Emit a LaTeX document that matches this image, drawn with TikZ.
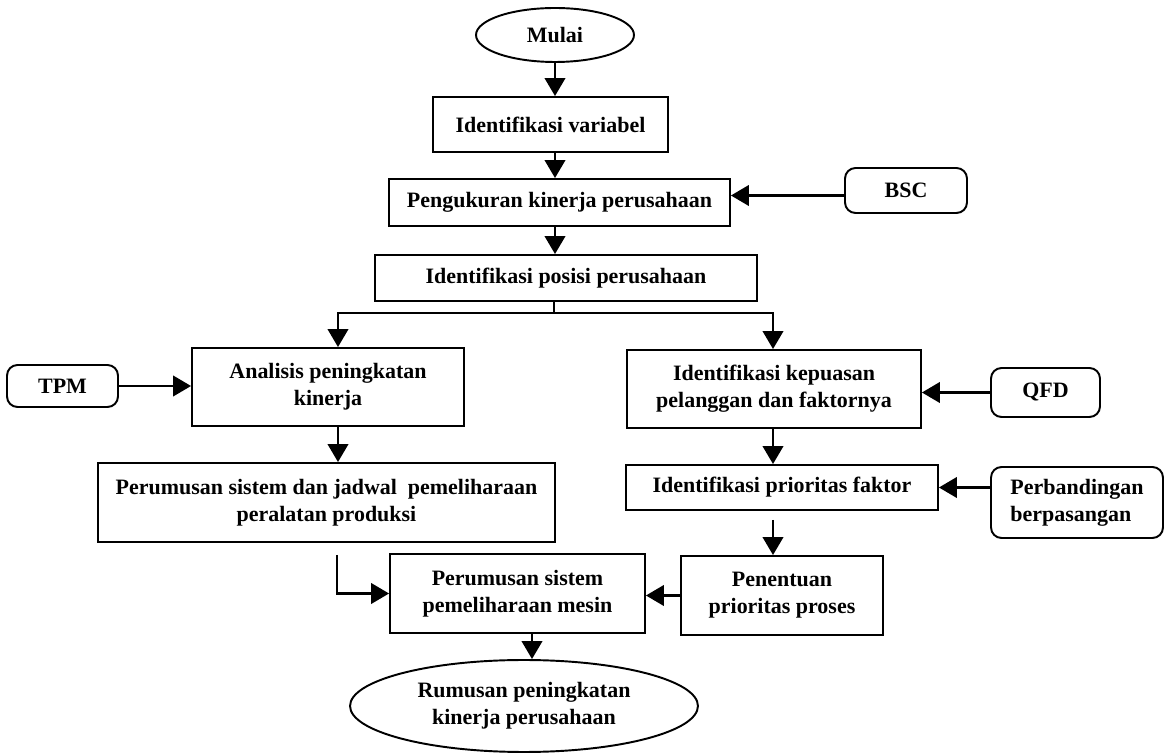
\documentclass[tikz,border=0pt]{standalone}
\usepackage{fontspec}
\setmainfont{Liberation Serif}
\usepackage{tikz}
\usetikzlibrary{shapes,arrows.meta,positioning,calc}

\begin{document}
\begin{tikzpicture}[x=0.02cm, y=-0.02cm, >={Triangle[length=3.6mm,width=4.1mm]},
    kotak/.style={rectangle, draw, line width=1.1pt, align=center, inner sep=0pt,
        font=\bfseries\fontsize{12.5}{15.5}\selectfont},
    bulat/.style={kotak, rounded corners=6pt},
    oval/.style={kotak, ellipse},
    garis/.style={line width=1.4pt},
    panah/.style={garis, ->}]
    \useasboundingbox (0,0) rectangle (1167,756);

    \node (mulai) [oval, minimum width=3.16cm, minimum height=1.08cm] at (555,35) {Mulai};
    \node (var) [kotak, minimum width=4.7cm, minimum height=1.1cm] at (550.5,124.5) {Identifikasi variabel};
    \node (ukur) [kotak, minimum width=6.82cm, minimum height=0.94cm] at (559.5,202.5) {Pengukuran kinerja perusahaan};
    \node (bsc) [bulat, minimum width=2.44cm, minimum height=0.9cm] at (906,190.5) {BSC};
    \node (posisi) [kotak, minimum width=7.64cm, minimum height=0.92cm] at (566,278) {Identifikasi posisi perusahaan};

    \node (analisis) [kotak, minimum width=5.44cm, minimum height=1.56cm] at (328,387) {Analisis peningkatan\\kinerja};
    \node (tpm) [bulat, minimum width=2.22cm, minimum height=0.84cm] at (62.5,386) {TPM};
    \node (jadwal) [kotak, minimum width=9.14cm, minimum height=1.58cm] at (326.5,502.5) {Perumusan sistem dan jadwal\ \ pemeliharaan\\peralatan produksi};

    \node (kepuasan) [kotak, minimum width=5.88cm, minimum height=1.56cm] at (774,389) {Identifikasi kepuasan\\pelanggan dan faktornya};
    \node (qfd) [bulat, minimum width=2.18cm, minimum height=0.98cm] at (1045.5,392.5) {QFD};
    \node (faktor) [kotak, minimum width=6.24cm, minimum height=0.9cm] at (782,487.5) {Identifikasi prioritas faktor};
    \node (banding) [bulat, align=left, minimum width=3.44cm, minimum height=1.42cm] at (1077,502.5) {Perbandingan\\berpasangan};
    \node (penentuan) [kotak, minimum width=4.04cm, minimum height=1.58cm] at (782,595.5) {Penentuan\\prioritas proses};

    \node (mesin) [kotak, minimum width=5.1cm, minimum height=1.58cm] at (517.5,593.5) {Perumusan sistem\\pemeliharaan mesin};
    \node (rumusan) [oval, minimum width=6.96cm, minimum height=1.84cm] at (524,706) {Rumusan peningkatan\\kinerja perusahaan};

    \coordinate (cabang) at (554,313);
    \coordinate (kiri) at (338,313);
    \coordinate (kanan) at (773,313);
    \coordinate (belok) at (337,555);
    \coordinate (jeda) at (773,520);
    \coordinate (turun) at (532,633);

    \draw [panah] (mulai) -- (mulai |- var.north);
    \draw [panah] (mulai |- var.south) -- (mulai |- ukur.north);
    \draw [panah] (mulai |- ukur.south) -- (mulai |- posisi.north);
    \draw [panah] ([yshift=-0.1cm]bsc.west) -- ([yshift=-0.1cm]bsc.west -| ukur.east);

    \draw [garis] (posisi.south -| cabang) -- (cabang);
    \draw [panah] (cabang) -- (kiri) -- (kiri |- analisis.north);
    \draw [panah] (cabang) -- (kanan) -- (kanan |- kepuasan.north);

    \draw [panah] (tpm.east) -- (tpm.east -| analisis.west);
    \draw [panah] (kiri |- analisis.south) -- (kiri |- jadwal.north);
    \draw [panah] (belok) |- (mesin.west);

    \draw [panah] (qfd.west) -- (qfd.west -| kepuasan.east);
    \draw [panah] (kanan |- kepuasan.south) -- (kanan |- faktor.north);
    \draw [panah] (faktor.east -| banding.west) -- (faktor.east);
    \draw [panah] (jeda) -- (jeda |- penentuan.north);
    \draw [panah] (penentuan.west) -- (penentuan.west -| mesin.east);

    \draw [panah] (turun) -- (turun |- rumusan.north);
\end{tikzpicture}
\end{document}
